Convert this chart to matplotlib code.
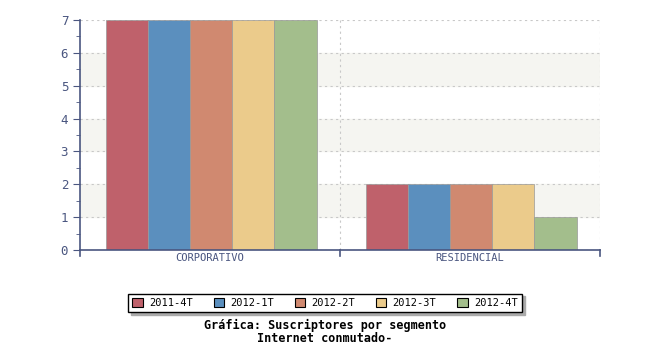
import matplotlib
matplotlib.use('Agg')
import matplotlib.pyplot as plt
import numpy as np

# Data
categories = ['CORPORATIVO', 'RESIDENCIAL']
periods = ['2011-4T', '2012-1T', '2012-2T', '2012-3T', '2012-4T']
values = [
    [7, 2],  # 2011-4T
    [7, 2],  # 2012-1T
    [7, 2],  # 2012-2T
    [7, 2],  # 2012-3T
    [7, 1],  # 2012-4T
]
colors = ['#bf616b', '#5b8fbe', '#d08970', '#ebcb8b', '#a3be8c']

axis_col = '#4a5680'
mono = 'DejaVu Sans Mono'

fig = plt.figure(figsize=(6.5, 3.5), dpi=100)
ax = fig.add_axes([80 / 650, 1 - 250 / 350, 520 / 650, 230 / 350])

# alternating background bands
for lo in [1, 3, 5]:
    ax.axhspan(lo, lo + 1, color='#f5f5f1', zorder=0)

# grid lines
for y in range(0, 8):
    ax.axhline(y, color='#c8c8c8', lw=0.8, ls=(0, (2, 3)), zorder=1)
for x in [1, 2]:
    ax.axvline(x, color='#c8c8c8', lw=0.8, ls=(0, (2, 3)), zorder=1)

bw = 0.162
start = 0.1
for i, (p, vals) in enumerate(zip(periods, values)):
    xs = np.arange(len(categories)) + start + i * bw
    ax.bar(xs, vals, width=bw, align='edge', color=colors[i],
           edgecolor='#999999', linewidth=0.5, label=p, zorder=2)

ax.set_xlim(0, 2)
ax.set_ylim(0, 7)

for s in ['top', 'right']:
    ax.spines[s].set_visible(False)
ax.spines['left'].set_color(axis_col)
ax.spines['bottom'].set_color(axis_col)
ax.spines['left'].set_linewidth(1.2)
ax.spines['bottom'].set_linewidth(1.2)

ax.set_yticks(range(0, 8))
ax.set_yticks(np.arange(0.5, 7, 1), minor=True)
ax.tick_params(axis='y', which='major', length=5, color=axis_col, labelcolor=axis_col, labelsize=9)
ax.tick_params(axis='y', which='minor', length=3, color=axis_col)
for lab in ax.get_yticklabels():
    lab.set_family(mono)

ax.set_xticks([0, 1, 2])
ax.set_xticklabels([])
ax.tick_params(axis='x', which='major', length=0)
ax.set_xticks([0.5, 1.5], minor=True)
ax.set_xticklabels(categories, minor=True, family=mono, fontsize=7.5, color=axis_col)
ax.tick_params(axis='x', which='minor', length=0, pad=2)
for x in [0, 1, 2]:
    ax.plot([x, x], [0, -0.18], color=axis_col, lw=1.2, clip_on=False, zorder=3)

leg = fig.legend(loc='center', bbox_to_anchor=(325 / 650, 1 - 303 / 350), ncol=5,
                 prop={'family': mono, 'size': 7.5}, frameon=True, fancybox=False,
                 shadow={'color': '#aaaaaa', 'alpha': 1.0}, edgecolor='black',
                 handlelength=1.0, handleheight=1.0,
                 columnspacing=2.0, borderpad=0.4, handletextpad=0.6)
leg.get_frame().set_linewidth(1.0)
for h in leg.legend_handles:
    h.set_edgecolor('black')
    h.set_linewidth(0.8)

fig.text(325 / 650, 1 - 325 / 350, 'Gráfica: Suscriptores por segmento', ha='center', va='center',
         family=mono, fontweight='bold', fontsize=8.5)
fig.text(325 / 650, 1 - 338 / 350, 'Internet conmutado-', ha='center', va='center',
         family=mono, fontweight='bold', fontsize=8.5)

fig.savefig('out.png', dpi=100)
